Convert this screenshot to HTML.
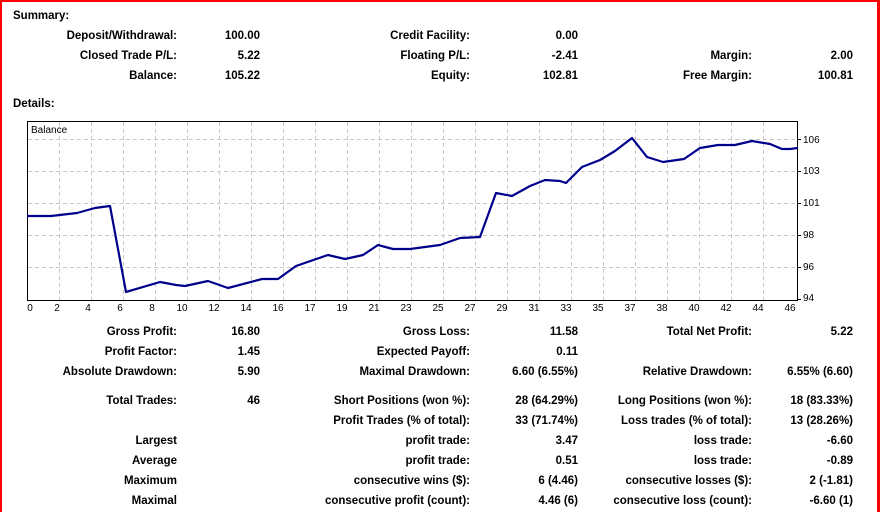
<!DOCTYPE html>
<html><head><meta charset="utf-8"><style>
html,body{margin:0;padding:0;background:#fff;}
svg{display:block;}
text{font-family:"Liberation Sans",sans-serif;font-size:11.5px;font-weight:bold;fill:#000;}
.s{font-size:10px;font-weight:normal;}
</style></head><body>
<svg width="880" height="512" viewBox="0 0 880 512">
<rect x="0" y="0" width="880" height="512" fill="#fff"/>
<rect x="0" y="0" width="880" height="2" fill="#f00"/>
<rect x="0" y="0" width="2" height="512" fill="#f00"/>
<rect x="877" y="0" width="3" height="512" fill="#f00"/>

<text x="13" y="19">Summary:</text>
<g text-anchor="end">
<text x="177" y="39">Deposit/Withdrawal:</text><text x="260" y="39">100.00</text>
<text x="470" y="39">Credit Facility:</text><text x="578" y="39">0.00</text>
<text x="177" y="59">Closed Trade P/L:</text><text x="260" y="59">5.22</text>
<text x="470" y="59">Floating P/L:</text><text x="578" y="59">-2.41</text>
<text x="752" y="59">Margin:</text><text x="853" y="59">2.00</text>
<text x="177" y="79">Balance:</text><text x="260" y="79">105.22</text>
<text x="470" y="79">Equity:</text><text x="578" y="79">102.81</text>
<text x="752" y="79">Free Margin:</text><text x="853" y="79">100.81</text>
</g>
<text x="13" y="107">Details:</text>

<g stroke="#c8c8c8" stroke-dasharray="4,3" stroke-width="1">
<line x1="28" y1="139.5" x2="797" y2="139.5"/>
<line x1="28" y1="171.5" x2="797" y2="171.5"/>
<line x1="28" y1="203.5" x2="797" y2="203.5"/>
<line x1="28" y1="235.5" x2="797" y2="235.5"/>
<line x1="28" y1="267.5" x2="797" y2="267.5"/>
<line x1="59.5" y1="122" x2="59.5" y2="300"/>
<line x1="91.5" y1="122" x2="91.5" y2="300"/>
<line x1="123.5" y1="122" x2="123.5" y2="300"/>
<line x1="155.5" y1="122" x2="155.5" y2="300"/>
<line x1="187.5" y1="122" x2="187.5" y2="300"/>
<line x1="219.5" y1="122" x2="219.5" y2="300"/>
<line x1="251.5" y1="122" x2="251.5" y2="300"/>
<line x1="283.5" y1="122" x2="283.5" y2="300"/>
<line x1="315.5" y1="122" x2="315.5" y2="300"/>
<line x1="347.5" y1="122" x2="347.5" y2="300"/>
<line x1="379.5" y1="122" x2="379.5" y2="300"/>
<line x1="411.5" y1="122" x2="411.5" y2="300"/>
<line x1="443.5" y1="122" x2="443.5" y2="300"/>
<line x1="475.5" y1="122" x2="475.5" y2="300"/>
<line x1="507.5" y1="122" x2="507.5" y2="300"/>
<line x1="539.5" y1="122" x2="539.5" y2="300"/>
<line x1="571.5" y1="122" x2="571.5" y2="300"/>
<line x1="603.5" y1="122" x2="603.5" y2="300"/>
<line x1="635.5" y1="122" x2="635.5" y2="300"/>
<line x1="667.5" y1="122" x2="667.5" y2="300"/>
<line x1="699.5" y1="122" x2="699.5" y2="300"/>
<line x1="731.5" y1="122" x2="731.5" y2="300"/>
<line x1="763.5" y1="122" x2="763.5" y2="300"/>
</g>
<rect x="27.5" y="121.5" width="770" height="179" fill="none" stroke="#000" stroke-width="1"/>
<g stroke="#000"><line x1="798" y1="139.5" x2="801" y2="139.5"/><line x1="798" y1="171.5" x2="801" y2="171.5"/><line x1="798" y1="203.5" x2="801" y2="203.5"/><line x1="798" y1="235.5" x2="801" y2="235.5"/><line x1="798" y1="267.5" x2="801" y2="267.5"/><line x1="798" y1="299.5" x2="801" y2="299.5"/></g>
<text class="s" x="31" y="133">Balance</text>

<polyline fill="none" stroke="#00008b" stroke-width="2.2" stroke-linejoin="round" points="27,216 51,216 77,213 95,208 110,206 126,292 160,282 176,285 185,286 208,281 228,288 262,279 278,279 296,266 328,255 345,259 363,255 378,245 393,249 410,249 440,245 460,238 480,237 496,193 512,196 530,186 545,180 560,181 566,183 582,167 600,160 615,151 632,138 647,157 663,162 684,159 700,148 718,145 735,145 752,141 770,144 782,149 790,149 798,148"/>

<g class="s" text-anchor="start">
<text class="s" x="803" y="143">106</text>
<text class="s" x="803" y="174">103</text>
<text class="s" x="803" y="206">101</text>
<text class="s" x="803" y="238">98</text>
<text class="s" x="803" y="270">96</text>
<text class="s" x="803" y="301">94</text>
</g>
<g text-anchor="middle">
<text class="s" x="30" y="311">0</text><text class="s" x="57" y="311">2</text><text class="s" x="88" y="311">4</text><text class="s" x="120" y="311">6</text><text class="s" x="152" y="311">8</text><text class="s" x="182" y="311">10</text><text class="s" x="214" y="311">12</text><text class="s" x="246" y="311">14</text><text class="s" x="278" y="311">16</text><text class="s" x="310" y="311">17</text><text class="s" x="342" y="311">19</text><text class="s" x="374" y="311">21</text><text class="s" x="406" y="311">23</text><text class="s" x="438" y="311">25</text><text class="s" x="470" y="311">27</text><text class="s" x="502" y="311">29</text><text class="s" x="534" y="311">31</text><text class="s" x="566" y="311">33</text><text class="s" x="598" y="311">35</text><text class="s" x="630" y="311">37</text><text class="s" x="662" y="311">38</text><text class="s" x="694" y="311">40</text><text class="s" x="726" y="311">42</text><text class="s" x="758" y="311">44</text><text class="s" x="790" y="311">46</text>
</g>

<g text-anchor="end">
<text x="177" y="335">Gross Profit:</text><text x="260" y="335">16.80</text>
<text x="470" y="335">Gross Loss:</text><text x="578" y="335">11.58</text>
<text x="752" y="335">Total Net Profit:</text><text x="853" y="335">5.22</text>
<text x="177" y="355">Profit Factor:</text><text x="260" y="355">1.45</text>
<text x="470" y="355">Expected Payoff:</text><text x="578" y="355">0.11</text>
<text x="177" y="375">Absolute Drawdown:</text><text x="260" y="375">5.90</text>
<text x="470" y="375">Maximal Drawdown:</text><text x="578" y="375">6.60 (6.55%)</text>
<text x="752" y="375">Relative Drawdown:</text><text x="853" y="375">6.55% (6.60)</text>
<text x="177" y="404">Total Trades:</text><text x="260" y="404">46</text>
<text x="470" y="404">Short Positions (won %):</text><text x="578" y="404">28 (64.29%)</text>
<text x="752" y="404">Long Positions (won %):</text><text x="853" y="404">18 (83.33%)</text>
<text x="470" y="424">Profit Trades (% of total):</text><text x="578" y="424">33 (71.74%)</text>
<text x="752" y="424">Loss trades (% of total):</text><text x="853" y="424">13 (28.26%)</text>
<text x="177" y="444">Largest</text>
<text x="470" y="444">profit trade:</text><text x="578" y="444">3.47</text>
<text x="752" y="444">loss trade:</text><text x="853" y="444">-6.60</text>
<text x="177" y="464">Average</text>
<text x="470" y="464">profit trade:</text><text x="578" y="464">0.51</text>
<text x="752" y="464">loss trade:</text><text x="853" y="464">-0.89</text>
<text x="177" y="484">Maximum</text>
<text x="470" y="484">consecutive wins ($):</text><text x="578" y="484">6 (4.46)</text>
<text x="752" y="484">consecutive losses ($):</text><text x="853" y="484">2 (-1.81)</text>
<text x="177" y="504">Maximal</text>
<text x="470" y="504">consecutive profit (count):</text><text x="578" y="504">4.46 (6)</text>
<text x="752" y="504">consecutive loss (count):</text><text x="853" y="504">-6.60 (1)</text>
</g>
</svg>
</body></html>
